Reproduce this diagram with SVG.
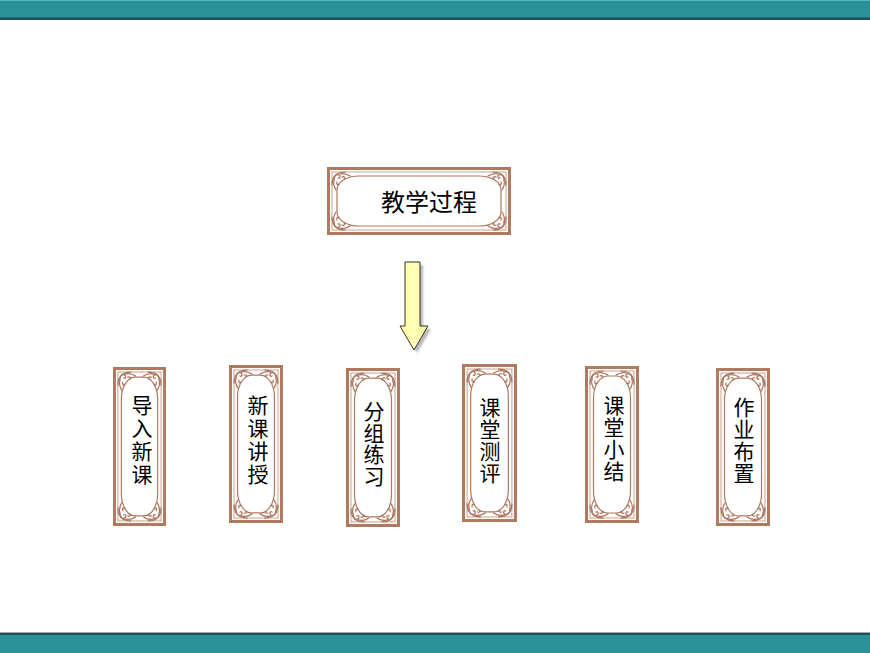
<svg xmlns="http://www.w3.org/2000/svg" xmlns:xlink="http://www.w3.org/1999/xlink" width="870" height="653" viewBox="0 0 870 653">
<style>
.t{font-family:"Liberation Sans","Noto Sans CJK SC",sans-serif;font-size:21px;fill:#000;text-anchor:middle}
.tt{font-size:24px}
.ob{fill:#fff;stroke:#b07a60;stroke-width:3}
.il{fill:none;stroke:#c9a38e;stroke-width:1}
.ov{fill:#fff;stroke:#b07a60;stroke-width:1.2}
.orn{fill:none;stroke:#a8705a;stroke-width:1.2;stroke-linecap:round}
</style>
<defs>
<g id="orn">
<path class="orn" d="M5,18 C5,10 9,5 18,5"/>
<path class="orn" d="M7,13 C7,8 10,7 12,8 C14,9 13,12 11,11"/>
<path class="orn" d="M12,7 C16,6 20,7 23,9"/>
<path class="orn" d="M7,13 C6,17 7,20 9,23"/>
<path class="orn" d="M15,10 C17,9 19,11 17,12"/>
<path class="orn" d="M10,15 C9,17 11,19 12,17"/>
</g>
<symbol id="vf" viewBox="0 0 54 157" preserveAspectRatio="none">
<rect class="ob" x="1.5" y="1.5" width="51" height="154"/>
<rect class="il" x="5" y="5" width="44" height="147"/>
<rect class="ov" x="8.5" y="10" width="37" height="137" rx="14" ry="22"/>
<use xlink:href="#orn"/>
<use xlink:href="#orn" transform="translate(54,0) scale(-1,1)"/>
<use xlink:href="#orn" transform="translate(0,157) scale(1,-1)"/>
<use xlink:href="#orn" transform="translate(54,157) scale(-1,-1)"/>
</symbol>
<symbol id="hf" viewBox="0 0 184 68" preserveAspectRatio="none">
<rect class="ob" x="1.5" y="1.5" width="181" height="65"/>
<rect class="il" x="5" y="5" width="174" height="58"/>
<rect class="ov" x="10" y="9" width="164" height="50" rx="22" ry="14"/>
<use xlink:href="#orn"/>
<use xlink:href="#orn" transform="translate(184,0) scale(-1,1)"/>
<use xlink:href="#orn" transform="translate(0,68) scale(1,-1)"/>
<use xlink:href="#orn" transform="translate(184,68) scale(-1,-1)"/>
</symbol>
<linearGradient id="ag" x1="0" y1="0" x2="1" y2="0">
<stop offset="0" stop-color="#ffff99"/>
<stop offset="0.5" stop-color="#ffffbb"/>
<stop offset="1" stop-color="#f5f08a"/>
</linearGradient>
<filter id="sh" x="-30%" y="-10%" width="160%" height="130%">
<feGaussianBlur stdDeviation="1.2"/>
</filter>
</defs>
<rect width="870" height="653" fill="#fff"/>
<g id="bars">
<rect x="0" y="0" width="870" height="18" fill="#2a9199"/>
<rect x="0" y="0" width="870" height="1" fill="#55b7bf"/>
<rect x="0" y="17.5" width="870" height="2.5" fill="#1f4e54"/>
<rect x="0" y="632" width="870" height="1.2" fill="#a0a8bc"/>
<rect x="0" y="633" width="870" height="2" fill="#1f4e54"/>
<rect x="0" y="635" width="870" height="18" fill="#2a9199"/>
</g>
<g id="connectors">
<path d="M408,265 H423 V329 H431 L417,353 L403,329 H408 Z" fill="#888" opacity="0.6" filter="url(#sh)"/>
<path d="M405,262 H420 V326 H428 L414,350 L400,326 H405 Z" fill="url(#ag)" stroke="#333" stroke-width="1"/>
</g>
<g id="n0">
<use xlink:href="#hf" x="327" y="167" width="184" height="68"/>
<text class="t tt" x="429" y="211">教学过程</text>
</g>
<g id="n1">
<use xlink:href="#vf" x="113" y="367" width="53" height="159"/>
<text class="t"><tspan x="142" y="413">导</tspan><tspan x="142" y="436">入</tspan><tspan x="142" y="459">新</tspan><tspan x="142" y="482">课</tspan></text>
</g>
<g id="n2">
<use xlink:href="#vf" x="229" y="365" width="54" height="158"/>
<text class="t"><tspan x="258" y="413">新</tspan><tspan x="258" y="436">课</tspan><tspan x="258" y="459">讲</tspan><tspan x="258" y="482">授</tspan></text>
</g>
<g id="n3">
<use xlink:href="#vf" x="346" y="368" width="54" height="159"/>
<text class="t"><tspan x="374" y="419">分</tspan><tspan x="374" y="440.5">组</tspan><tspan x="374" y="462">练</tspan><tspan x="374" y="483.5">习</tspan></text>
</g>
<g id="n4">
<use xlink:href="#vf" x="462" y="364" width="55" height="158"/>
<text class="t"><tspan x="490" y="415">课</tspan><tspan x="490" y="437">堂</tspan><tspan x="490" y="459">测</tspan><tspan x="490" y="481">评</tspan></text>
</g>
<g id="n5">
<use xlink:href="#vf" x="585" y="366" width="54" height="157"/>
<text class="t"><tspan x="614" y="413">课</tspan><tspan x="614" y="435">堂</tspan><tspan x="614" y="457">小</tspan><tspan x="614" y="479">结</tspan></text>
</g>
<g id="n6">
<use xlink:href="#vf" x="716" y="368" width="54" height="158"/>
<text class="t"><tspan x="744" y="415">作</tspan><tspan x="744" y="437">业</tspan><tspan x="744" y="459">布</tspan><tspan x="744" y="481">置</tspan></text>
</g>
</svg>
